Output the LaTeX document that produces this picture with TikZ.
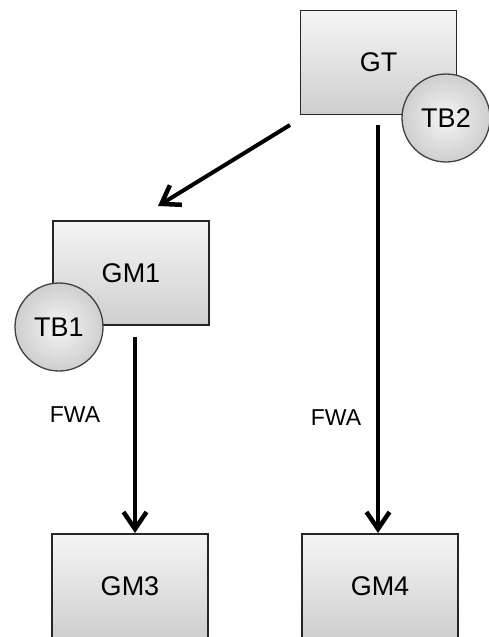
\documentclass[tikz,border=0pt]{standalone}
\usepackage{fontspec}
\setmainfont{Liberation Sans}
\usetikzlibrary{arrows.meta}
\begin{document}
\begin{tikzpicture}[x=1pt,y=-1pt,
  box/.style={draw=black!85,line width=1.6pt,top color=gray!8,bottom color=gray!38,
    minimum width=156pt,minimum height=104pt,inner sep=0pt,font=\fontsize{27}{27}\selectfont},
  tb/.style={circle,draw=black!75,line width=1.3pt,inner color=gray!8,outer color=gray!38,
    minimum size=88pt,inner sep=0pt,font=\fontsize{27}{27}\selectfont},
  conn/.style={line width=4pt,-{Straight Barb[length=17pt,width=23pt,line width=4.5pt]}},
  lbl/.style={font=\fontsize{23}{23}\selectfont}]
\useasboundingbox (0,0) rectangle (488,637);
\node[box] (GT) at (378.5,62.5) {GT};
\node[tb] (TB2) at (446,118) {TB2};
\node[box] (GM1) at (131,273) {GM1};
\node[tb] (TB1) at (59,327) {TB1};
\node[box,anchor=north] (GM3) at (130,533) {GM3};
\node[box,anchor=north] (GM4) at (380,533) {GM4};
\coordinate (s1) at (290,125);
\coordinate (s2) at (135,337);
\coordinate (s3) at (378,125);
\coordinate (e1) at (158,206);
\draw[conn] (s1) -- (e1);
\draw[conn] (s2) -- (s2 |- GM3.north);
\draw[conn] (s3) -- (s3 |- GM4.north);
\node[lbl] (f1) at (75,415) {FWA};
\node[lbl] (f2) at (336,418) {FWA};
\end{tikzpicture}
\end{document}
